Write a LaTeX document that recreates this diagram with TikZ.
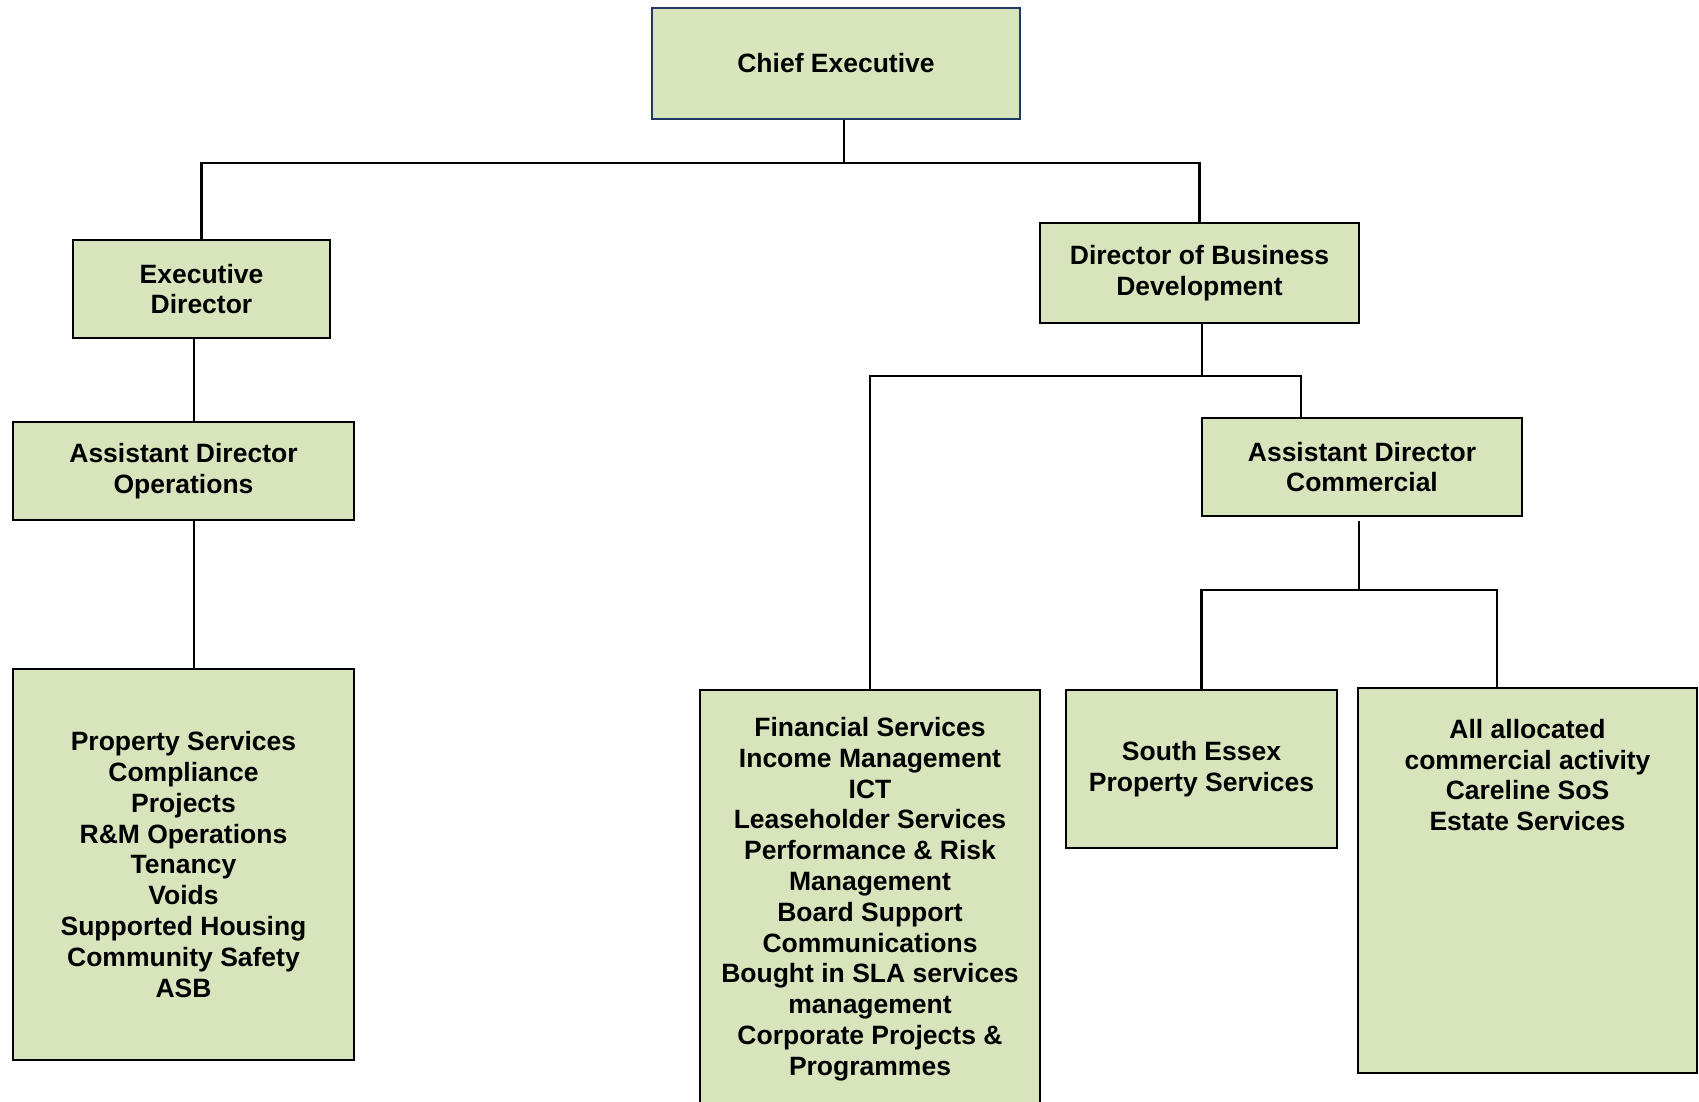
\documentclass[tikz,border=0pt]{standalone}
\usepackage{fontspec}
\setmainfont{Liberation Sans}
\usepackage{tikz}
\usetikzlibrary{positioning}
\definecolor{unitfill}{HTML}{D8E4BC}
\definecolor{chiefline}{HTML}{1F3864}

\begin{document}
\begin{tikzpicture}[
  x=1pt, y=-1pt,
  every node/.style={font=\bfseries\fontsize{26.5}{30.8}\selectfont, align=center},
  unit/.style={draw=black, line width=2pt, fill=unitfill, inner sep=0pt},
  link/.style={line width=2.8pt, black}
]
  \useasboundingbox (0,0) rectangle (1699,1101);

  % Top level
  \node[unit, draw=chiefline, minimum width=368, minimum height=111] (CE) at (836,63) {Chief Executive};

  % Left branch
  \node[unit, minimum width=257, minimum height=98] (ED) at (201.5,289) {Executive\\Director};
  \node[unit, minimum width=341, minimum height=98] (ADO) at (183.5,471) {Assistant Director\\Operations};
  \node[unit, minimum width=341, minimum height=391] (OPS) at (183.5,864.5) {Property Services\\Compliance\\Projects\\R\&M Operations\\Tenancy\\Voids\\Supported Housing\\Community Safety\\ASB};

  % Right branch
  \node[unit, minimum width=319, minimum height=100] (DBD) at (1199.5,273) {Director of Business\\Development};
  \node[unit, minimum width=320, minimum height=98] (ADC) at (1362,467) {Assistant Director\\Commercial};
  \node[unit, minimum width=340, minimum height=418] (FIN) at (870,899) {Financial Services\\Income Management\\ICT\\Leaseholder Services\\Performance \& Risk\\Management\\Board Support\\Communications\\Bought in SLA services\\management\\Corporate Projects \&\\Programmes};
  \node[unit, minimum width=271, minimum height=158] (SEPS) at (1201.5,769) {South Essex\\Property Services};
  \node[unit, minimum width=339, minimum height=385] (ALLOC) at (1527.5,880.5) {};
  \node (ALLOCtext) at ([yshift=-88pt]ALLOC.north) {All allocated\\commercial activity\\Careline SoS\\Estate Services};

  % Connectors
  \coordinate (top) at (844,163);
  \draw[link] (CE.south -| top) -- (top);
  \draw[link] (ED.north) |- (top) -| (DBD.north);

  \coordinate (leftx) at (194,0);
  \draw[link] (ED.south -| leftx) -- (ADO.north -| leftx);
  \draw[link] (ADO.south -| leftx) -- (OPS.north -| leftx);

  \coordinate (mid) at (1202,376);
  \coordinate (adcx) at (1301,0);
  \draw[link] (DBD.south -| mid) -- (mid);
  \draw[link] (FIN.north) |- (mid) -| (ADC.north -| adcx);

  \coordinate (low) at (1359,590);
  \coordinate (allocx) at (1497,0);
  \draw[link] ([yshift=-4pt]ADC.south -| low) -- (low);
  \draw[link] (SEPS.north) |- (low) -| (ALLOC.north -| allocx);
\end{tikzpicture}
\end{document}
